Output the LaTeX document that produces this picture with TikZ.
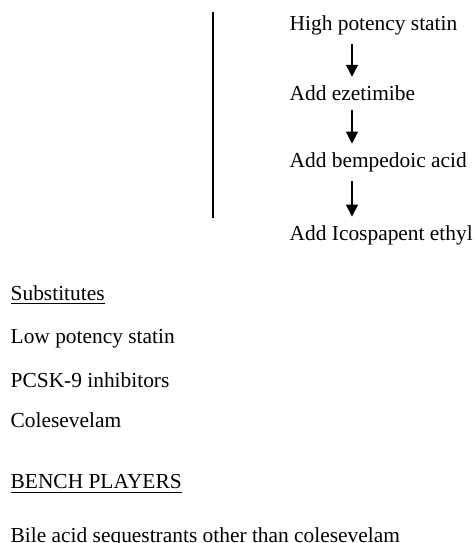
\documentclass[tikz,border=0pt]{standalone}
\usepackage{fontspec}
\setmainfont{Liberation Serif}
\usetikzlibrary{arrows.meta, positioning}

\begin{document}
\begin{tikzpicture}[
  x=0.5pt, y=-0.5pt,
  txt/.style={anchor=west, inner sep=1pt, font=\fontsize{10.7}{13}\selectfont},
  step arrow/.style={->, shorten <=3.5pt, shorten >=3pt},
  >={Triangle[width=6pt, length=6pt]}, line width=0.7pt
]
\useasboundingbox (0,0) rectangle (475,543);
% separator
\draw (213,12) -- (213,218);
% treatment steps
\node[txt] (hps)  at (287,25)  {High potency statin};
\node[txt] (eze)  at (287,93)  {Add ezetimibe};
\node[txt] (bemp) at (287,162) {Add bempedoic acid};
\node[txt] (ico)  at (287,235) {Add Icospapent ethyl};
\coordinate (ax) at (352,0);

\draw[step arrow] (hps.south -| ax)  -- (eze.north -| ax);
\draw[step arrow] (eze.south -| ax)  -- (bemp.north -| ax);
\draw[step arrow] (bemp.south -| ax) -- (ico.north -| ax);

% substitutes and bench
\node[txt] (sub)   at (8,295) {\underline{Substitutes}};
\node[txt] (low)   at (8,339) {Low potency statin};
\node[txt] (pcsk)  at (8,380) {PCSK-9 inhibitors};
\node[txt] (coles) at (8,420) {Colesevelam};
\node[txt] (bench) at (8,484) {\underline{BENCH PLAYERS}};
\node[txt] (bile)  at (8,537) {Bile acid sequestrants other than colesevelam};
\end{tikzpicture}
\end{document}
